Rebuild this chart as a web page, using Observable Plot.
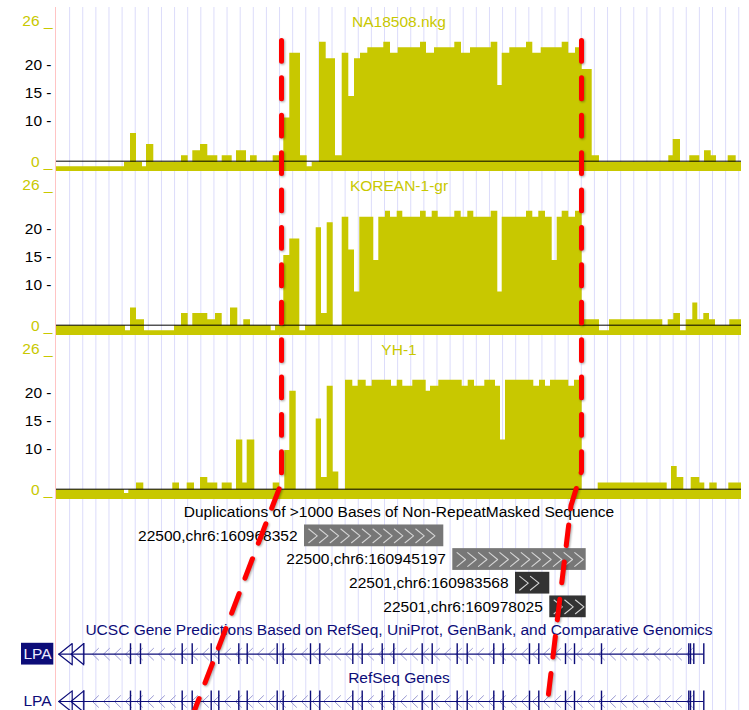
<!DOCTYPE html>
<html><head><meta charset="utf-8">
<script src="https://cdn.jsdelivr.net/npm/d3@7"></script>
<script src="https://cdn.jsdelivr.net/npm/@observablehq/plot@0.6"></script>
<style>
html,body{margin:0;padding:0;background:#fff;}
#wrap{position:relative;width:749px;height:710px;overflow:hidden;}
#wrap svg{display:block;}
#wrap svg.overlay{position:absolute;left:0;top:0;pointer-events:none;filter:drop-shadow(1px 1px 1.2px rgba(0,0,0,0.35));}
</style></head><body><div id="wrap"></div>
<script>
// ---------- data (x positions in kb from the left edge of the window) ----------
const REGION_KB = 137;
const trackNames = ["NA18508.nkg", "KOREAN-1-gr", "YH-1"];

const na18508Pos = [0,13.6,14.8,16.0,17.2,18.0,19.46,25.0,26.34,27.26,28.8,30.26,32.26,33.14,35.14,36.0,38.0,38.8,40.14,43.34,44.66,45.46,46.66,48.8,50.14,51.14,52.6,53.94,55.8,57.14,58.46,59.6,60.8,62.26,65.46,66.8,68.34,72.8,74.0,75.6,79.66,81.0,82.8,86.94,88.26,89.14,90.66,94.0,95.26,96.94,101.14,102.46,103.8,105.14,107.14,108.6,122.46,123.34,124.8,126.66,128.66,129.6,130.94,132.0,134.34,135.94];
const na18508Val = [1.5,2.3,7.5,2.3,1.5,5.5,2.3,3.5,2.3,4.4,5.5,3.5,2.3,3.5,2.3,4.4,2.3,3.5,2.3,3.5,2.3,10.3,22.0,3.5,1.5,2.3,24.0,21.0,3.5,22.0,14.2,21.0,22.0,23.0,24.0,22.0,23.0,24.0,22.0,23.0,24.0,22.0,23.0,24.0,16.2,22.0,23.0,24.0,22.0,23.0,24.0,22.0,23.0,19.1,3.5,2.3,3.5,6.4,2.3,3.5,2.3,4.4,3.5,2.3,3.5,2.3];

const koreanPos = [0,13.8,14.8,16.0,17.6,23.6,25.0,26.34,27.26,30.26,31.8,33.14,34.8,36.26,37.46,38.8,42.94,43.8,45.46,46.66,48.66,49.8,51.94,53.0,54.14,55.34,57.14,58.46,59.6,60.66,63.46,64.46,65.8,66.8,68.14,69.26,72.8,73.94,75.14,76.34,79.66,80.94,82.26,83.46,86.94,88.26,89.14,94.0,95.26,96.46,97.8,99.14,100.14,101.14,102.46,103.8,105.14,108.6,110.6,121.26,122.34,123.46,124.8,125.94,127.26,128.26,129.46,130.6,131.8,134.66];
const koreanVal = [2.4,1.5,5.6,3.5,1.5,2.4,4.6,2.4,4.6,3.5,4.6,2.4,5.6,2.4,3.5,2.4,1.5,2.4,15.1,18.1,1.5,2.4,20.1,4.6,21.0,2.4,22.0,16.1,8.5,22.0,14.2,22.0,23.1,22.0,23.1,22.0,23.1,22.0,23.1,22.0,23.1,22.0,23.1,22.0,23.1,8.5,22.0,23.1,22.0,23.1,22.0,14.2,22.0,23.1,22.0,23.1,3.5,1.5,3.5,2.4,3.5,4.6,1.5,3.5,6.5,3.5,4.6,3.5,2.4,3.5];

const yhPos = [0,13.6,14.46,16.0,17.46,23.26,24.6,26.14,27.6,28.8,30.26,32.26,33.14,35.14,36.0,37.26,38.14,39.66,43.34,44.66,45.66,46.66,47.94,51.94,53.0,54.14,55.34,56.46,57.8,59.26,60.34,61.94,63.14,67.0,68.14,69.26,71.26,73.94,74.8,76.46,81.14,82.34,83.6,85.66,87.8,88.8,89.8,95.46,96.6,97.8,98.8,102.46,103.6,105.14,108.34,122.14,123.0,124.14,125.46,126.94,128.66,129.66,130.66,132.14,134.46];
const yhVal = [2.4,1.7,2.4,3.6,2.4,3.6,2.4,3.6,2.4,4.6,3.6,2.4,3.6,2.4,11.4,3.6,11.4,2.4,3.6,2.4,9.5,20.2,2.4,15.2,4.6,21.1,5.6,2.4,22.2,21.1,22.2,21.1,22.2,21.1,22.2,21.1,22.2,20.2,21.1,22.2,21.1,22.2,21.1,22.2,21.1,11.4,22.2,21.1,22.2,21.1,22.2,21.1,22.2,2.4,3.6,2.4,6.6,4.6,2.4,4.6,3.6,2.4,3.6,2.4,3.6];

const midTicks = [10, 15, 20];
const endTicks = [0, 26];
const yLineMark = 2.5;

const dupLabels = ["22500,chr6:160968352", "22500,chr6:160945197", "22501,chr6:160983568", "22501,chr6:160978025"];
const dupStart = [49.6, 79.26, 91.8, 98.66];
const dupEnd = [77.46, 105.94, 98.66, 105.94];
const dupIdentity = [0.95, 0.95, 0.985, 0.985];

const geneName = "LPA";
const lpaStart = 0.46, lpaEnd = 129.46;
const lpaExons = [5.46,14.8,16.8,25.14,27.14,30.94,32.46,36.46,38.14,44.14,45.34,50.8,52.66,59.26,61.14,65.14,67.46,73.14,75.14,80.14,82.14,87.46,89.34,94.6,96.46,101.8,103.6,109.0,126.46,126.8,127.46,129.46];

const rowNames = ["dupTitle","dup1","dup2","dup3","dup4","ucscTitle","ucsc","refseqTitle","refseq"];
const trackTitles = [
  {row: "dupTitle", text: "Duplications of >1000 Bases of Non-RepeatMasked Sequence"},
  {row: "ucscTitle", text: "UCSC Gene Predictions Based on RefSeq, UniProt, GenBank, and Comparative Genomics"},
  {row: "refseqTitle", text: "RefSeq Genes"}
];
const geneRows = ["ucsc", "refseq"];

// highlight annotations (x in kb, y as fraction of figure height)
const leftGuideX = [45.0, 45.0, 27.6];
const leftGuideY = [0.0563, 0.679, 1.0];
const rightGuideX = [105.0, 105.0, 102.9, 98.0];
const rightGuideY = [0.0563, 0.6634, 0.7113, 1.0];

// ---------- build ----------
const font = "'Liberation Sans', Arial, Helvetica, sans-serif";
const olive = "#c8c800";
const navy = "#0c0c78";
const gridColor = "#dcdcfa";
const pink = "#ffc4c4";
const gridStep = 2.624;
const grid = d3.range(gridStep, REGION_KB, gridStep);
const row = name => rowNames.indexOf(name);

function steps(track, pos, val) {
  const r = pos.map((p, i) => ({track, x: p, v: val[i]}));
  r.push({track, x: REGION_KB, v: val[val.length - 1]});
  return r;
}
const coverage = [
  ...steps(trackNames[0], na18508Pos, na18508Val),
  ...steps(trackNames[1], koreanPos, koreanVal),
  ...steps(trackNames[2], yhPos, yhVal)
];

const plotA = Plot.plot({
  width: 749, height: 499,
  marginLeft: 56, marginRight: 8, marginTop: 7, marginBottom: 0,
  facet: {marginTop: 0, marginBottom: 0, marginLeft: 0, marginRight: 0},
  x: {domain: [0, REGION_KB], axis: null},
  y: {domain: [0.633, 30.29], axis: null, clamp: true},
  fy: {domain: trackNames, axis: null, padding: 0},
  style: {fontFamily: font, fontSize: "15.5px", background: "white"},
  marks: [
    Plot.ruleX(grid, {stroke: gridColor, strokeWidth: 1}),
    Plot.areaY(coverage, {x: "x", y: "v", fy: "track", curve: "step-after", fill: olive}),
    Plot.ruleY([yLineMark], {stroke: "black", strokeWidth: 1}),
    Plot.ruleX([0], {stroke: pink, dx: -1}),
    Plot.text(trackNames, {fy: d => d, text: d => d, frameAnchor: "top", dy: 8, fill: olive}),
    Plot.text(midTicks, {y: d => d, text: d => `${d} -`, frameAnchor: "left", textAnchor: "end", dx: -5, dy: 1, fill: "black"}),
    Plot.text(endTicks, {y: d => d, text: d => `${d} _`, frameAnchor: "left", textAnchor: "end", dx: -4, dy: -5, lineAnchor: "bottom", fill: olive})
  ]
});

const dups = dupLabels.map((label, i) => ({label, x1: dupStart[i], x2: dupEnd[i], identity: dupIdentity[i], r: row("dup" + (i + 1))}));
const dupChevrons = [];
dups.forEach((d, i) => {
  d3.range(d.x1 + 1.7, d.x2 - 0.95, 2.14).forEach((c, j) => {
    const id = `d${i}-${j}`;
    dupChevrons.push({id, x: c - 0.85, y: d.r - 0.29}, {id, x: c + 0.85, y: d.r}, {id, x: c - 0.85, y: d.r + 0.29});
  });
});

const genes = geneRows.map(g => ({r: row(g), name: geneName}));
const exonRows = genes.flatMap(g => lpaExons.map(x => ({x, r: g.r})));
const intronChevrons = [];
genes.forEach((g, i) => {
  d3.range(7.8, lpaEnd - 1, 2.2).forEach((c, j) => {
    const id = `g${i}-${j}`;
    intronChevrons.push({id, x: c + 0.6, y: g.r - 0.245}, {id, x: c - 0.6, y: g.r}, {id, x: c + 0.6, y: g.r + 0.245});
  });
});
const startArrows = [];
genes.forEach((g, i) => {
  const a = `a${i}`, b = `b${i}`;
  startArrows.push(
    {id: a, x: 3.14, y: g.r - 0.45}, {id: a, x: lpaStart, y: g.r}, {id: a, x: 3.14, y: g.r + 0.45}, {id: a, x: 3.14, y: g.r - 0.45},
    {id: b, x: 5.46, y: g.r - 0.45}, {id: b, x: 2.9, y: g.r}, {id: b, x: 5.46, y: g.r + 0.45}
  );
});

const plotB = Plot.plot({
  width: 749, height: 211,
  marginLeft: 56, marginRight: 8, marginTop: 0, marginBottom: 0,
  x: {domain: [0, REGION_KB], axis: null},
  y: {domain: [0, 8], range: [12.7, 202], axis: null},
  style: {fontFamily: font, fontSize: "15.5px", background: "white"},
  marks: [
    Plot.ruleX(grid, {stroke: gridColor, strokeWidth: 1}),
    Plot.ruleX([0], {stroke: pink, dx: -1}),
    Plot.text(trackTitles, {y: d => row(d.row), text: "text", fill: d => d.row === "dupTitle" ? "black" : navy}),
    Plot.rect(dups, {x1: "x1", x2: "x2", y1: d => d.r - 0.46, y2: d => d.r + 0.46, fill: d => d.identity > 0.97 ? "#333333" : "#777777"}),
    Plot.line(dupChevrons, {x: "x", y: "y", z: "id", stroke: "#d6d6d6", strokeWidth: 1.1}),
    Plot.text(dups, {x: "x1", y: "r", text: "label", textAnchor: "end", dx: -7, fill: "black"}),
    Plot.line(intronChevrons, {x: "x", y: "y", z: "id", stroke: "#9a9ad2", strokeWidth: 1}),
    Plot.ruleY(genes, {x1: lpaStart, x2: lpaEnd, y: "r", stroke: navy, strokeWidth: 1.2}),
    Plot.ruleX(exonRows, {x: "x", y1: d => d.r - 0.44, y2: d => d.r + 0.44, stroke: navy, strokeWidth: 1.4}),
    Plot.line(startArrows, {x: "x", y: "y", z: "id", stroke: navy, strokeWidth: 1.2}),
    Plot.rect(genes.slice(0, 1), {x1: 0, x2: 0, y1: d => d.r - 0.46, y2: d => d.r + 0.46, insetLeft: -35, insetRight: 2.7, fill: navy}),
    Plot.text(genes, {x: 0, y: "r", text: "name", dx: -19, textAnchor: "middle", fill: (d, i) => i === 0 ? "#ececff" : navy})
  ]
});

const guides = [
  ...leftGuideX.map((x, i) => ({side: "left", x, y: leftGuideY[i]})),
  ...rightGuideX.map((x, i) => ({side: "right", x, y: rightGuideY[i]}))
];
const overlay = Plot.plot({
  width: 749, height: 710,
  marginLeft: 56, marginRight: 8, marginTop: 0, marginBottom: 0,
  x: {domain: [0, REGION_KB], axis: null},
  y: {domain: [0, 1], range: [0, 710], axis: null},
  style: {background: "transparent"},
  marks: [
    Plot.line(guides, {x: "x", y: "y", z: "side", stroke: "#ff0000", strokeWidth: 5, strokeDasharray: "20.8,16.6"})
  ]
});
overlay.classList.add("overlay");

const wrap = document.getElementById("wrap");
wrap.append(plotA, plotB, overlay);
</script>
</body></html>
